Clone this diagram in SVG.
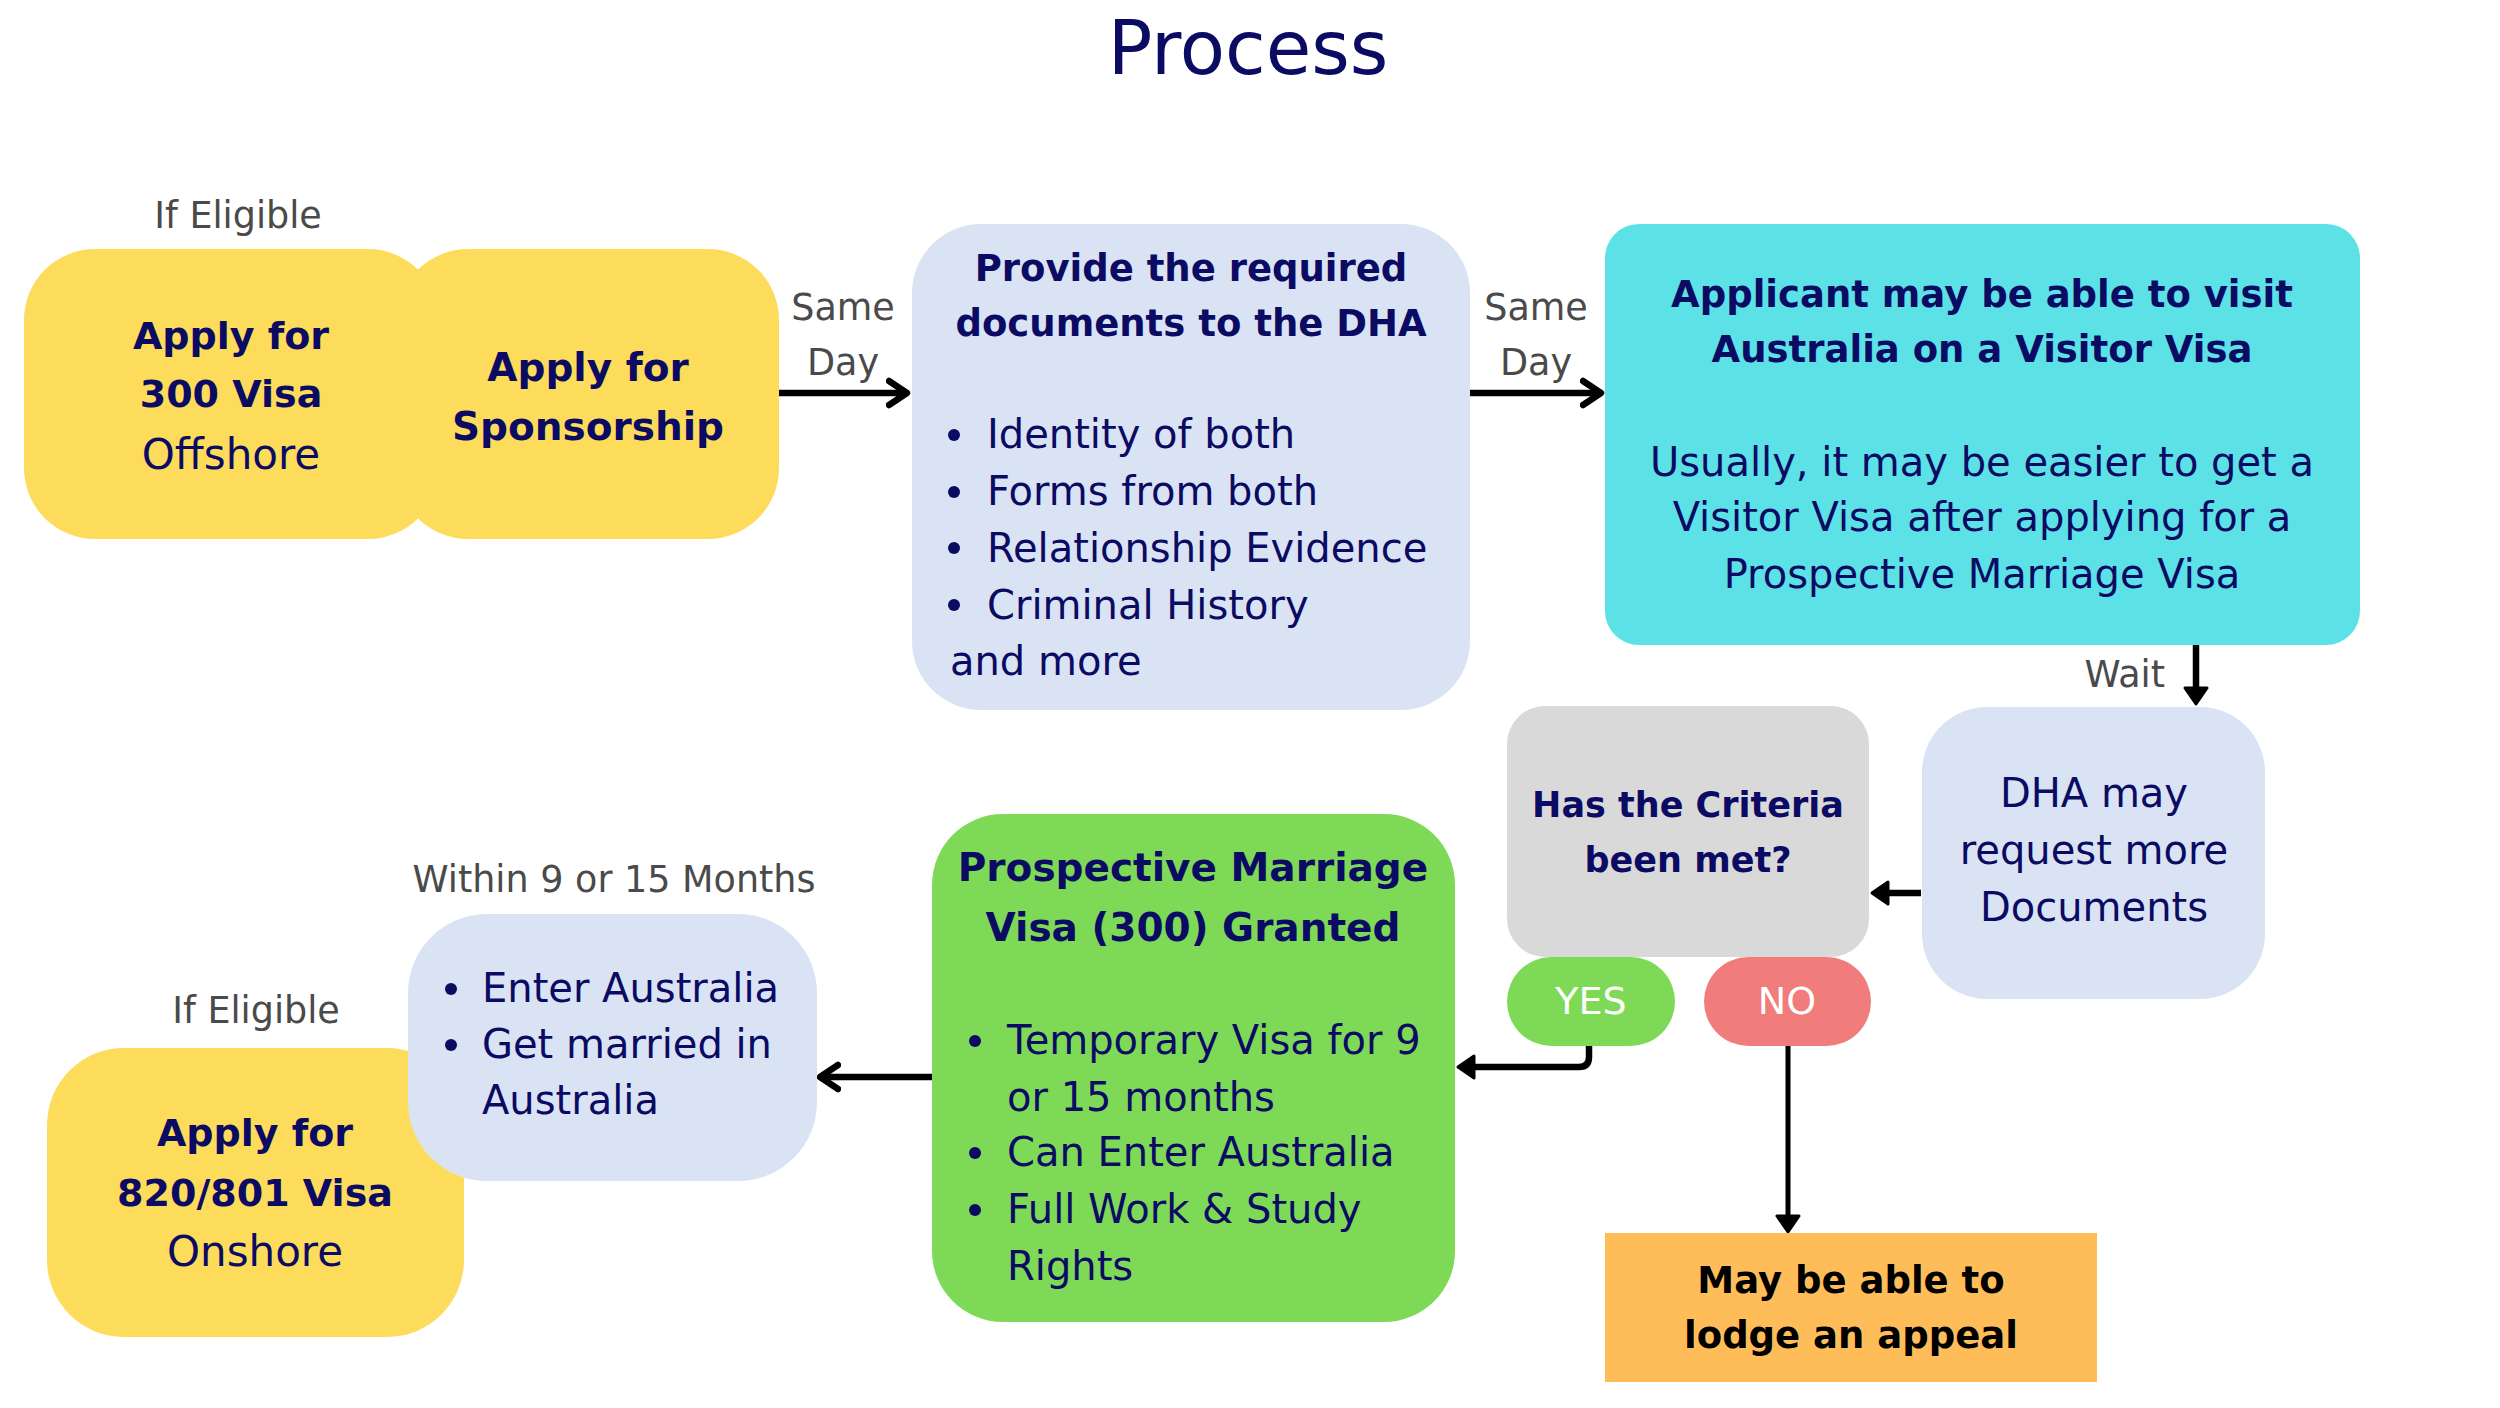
<svg xmlns="http://www.w3.org/2000/svg" width="2500" height="1408" viewBox="0 0 2500 1408">
<defs>
<style>
text{font-family:"DejaVu Sans","Noto Sans",sans-serif;fill:#0b0b63}
.r{font-size:40px;font-weight:400}
.b{font-size:37px;font-weight:700}
.lbl{font-size:36.5px;fill:#4a4a4a}
.c{text-anchor:middle}
.wt{fill:#ffffff;font-size:38px}
.blk{fill:#000000}
.ln{fill:none;stroke:#000;stroke-width:6.5;stroke-linecap:butt;stroke-linejoin:round}
.dot{fill:#0b0b63}
</style>
<marker id="chev" markerUnits="userSpaceOnUse" viewBox="0 0 26 32" refX="21" refY="16" markerWidth="26" markerHeight="32" orient="auto">
<path d="M3,4 L21,16 L3,28" fill="none" stroke="#000" stroke-width="6.5" stroke-linecap="round" stroke-linejoin="round"/>
</marker>
<marker id="tri" markerUnits="userSpaceOnUse" viewBox="0 0 24 30" refX="8" refY="15" markerWidth="24" markerHeight="30" orient="auto">
<path d="M3,4 L19,15 L3,26 Z" fill="#000" stroke="#000" stroke-width="3" stroke-linejoin="round"/>
</marker>
</defs>
<rect width="2500" height="1408" fill="#ffffff"/>
<text x="1248" y="74" class="c" style="font-size:74px">Process</text>

<g id="connectors">
<line class="ln" x1="779" y1="393" x2="907" y2="393" marker-end="url(#chev)"/>
<line class="ln" x1="1470" y1="393" x2="1601" y2="393" marker-end="url(#chev)"/>
<line class="ln" x1="2196" y1="645" x2="2196" y2="693" marker-end="url(#tri)"/>
<line class="ln" x1="1921" y1="893" x2="1883" y2="893" marker-end="url(#tri)"/>
<path class="ln" d="M1589,1046 L1589,1057 Q1589,1067 1579,1067 L1469,1067" marker-end="url(#tri)"/>
<line class="ln" x1="932" y1="1077" x2="820" y2="1077" marker-end="url(#chev)"/>
<line class="ln" x1="1788" y1="1046" x2="1788" y2="1221" style="stroke-width:5" marker-end="url(#tri)"/>
<text x="843" y="320" class="lbl c">Same</text>
<text x="843" y="375" class="lbl c">Day</text>
<text x="1536" y="320" class="lbl c">Same</text>
<text x="1536" y="375" class="lbl c">Day</text>
<text x="2165" y="687" class="lbl" text-anchor="end">Wait</text>
<text x="614" y="892" class="lbl c">Within 9 or 15 Months</text>
<text x="238" y="228" class="lbl c">If Eligible</text>
<text x="256" y="1023" class="lbl c">If Eligible</text>
</g>

<g id="apply300">
<rect x="24" y="249" width="415" height="290" rx="71" fill="#FDDC5C"/>
<text x="231" y="349" class="b c" style="font-size:38px">Apply for</text>
<text x="231" y="407" class="b c" style="font-size:38px">300 Visa</text>
<text x="231" y="469" class="r c" style="font-size:42px">Offshore</text>
</g>

<g id="sponsorship">
<rect x="397" y="249" width="382" height="290" rx="71" fill="#FDDC5C"/>
<text x="588" y="381" class="b c" style="font-size:39px">Apply for</text>
<text x="588" y="440" class="b c" style="font-size:39px">Sponsorship</text>
</g>

<g id="documents">
<rect x="912" y="224" width="558" height="486" rx="69" fill="#DAE3F3"/>
<text x="1191" y="281" class="b c">Provide the required</text>
<text x="1191" y="336" class="b c">documents to the DHA</text>
<circle class="dot" cx="954" cy="435" r="6"/>
<text x="987" y="448" class="r">Identity of both</text>
<circle class="dot" cx="954" cy="492" r="6"/>
<text x="987" y="505" class="r">Forms from both</text>
<circle class="dot" cx="954" cy="548" r="6"/>
<text x="987" y="562" class="r">Relationship Evidence</text>
<circle class="dot" cx="954" cy="605" r="6"/>
<text x="987" y="619" class="r">Criminal History</text>
<text x="950" y="675" class="r">and more</text>
</g>

<g id="visitor">
<rect x="1605" y="224" width="755" height="421" rx="34" fill="#5CE1E6"/>
<text x="1982" y="307" class="b c">Applicant may be able to visit</text>
<text x="1982" y="362" class="b c">Australia on a Visitor Visa</text>
<text x="1982" y="476" class="r c">Usually, it may be easier to get a</text>
<text x="1982" y="531" class="r c">Visitor Visa after applying for a</text>
<text x="1982" y="588" class="r c">Prospective Marriage Visa</text>
</g>

<g id="request">
<rect x="1922" y="707" width="343" height="292" rx="65" fill="#DAE3F3"/>
<text x="2094" y="807" class="r c">DHA may</text>
<text x="2094" y="864" class="r c">request more</text>
<text x="2094" y="921" class="r c">Documents</text>
</g>

<g id="criteria">
<rect x="1507" y="706" width="362" height="251" rx="38" fill="#D9D9D9"/>
<text x="1688" y="817" class="b c" style="font-size:35px">Has the Criteria</text>
<text x="1688" y="872" class="b c" style="font-size:35px">been met?</text>
</g>

<g id="yes">
<rect x="1507" y="957" width="168" height="89" rx="44.5" fill="#7ED957"/>
<text x="1591" y="1014" class="wt c">YES</text>
</g>

<g id="no">
<rect x="1704" y="957" width="167" height="89" rx="44.5" fill="#F07C7C"/>
<text x="1787" y="1014" class="wt c">NO</text>
</g>

<g id="appeal">
<rect x="1605" y="1233" width="492" height="149" fill="#FFBD59"/>
<text x="1851" y="1293" class="b c blk">May be able to</text>
<text x="1851" y="1348" class="b c blk">lodge an appeal</text>
</g>

<g id="granted">
<rect x="932" y="814" width="523" height="508" rx="71" fill="#7ED957"/>
<text x="1193" y="881" class="b c" style="font-size:39px">Prospective Marriage</text>
<text x="1193" y="941" class="b c" style="font-size:39px">Visa (300) Granted</text>
<circle class="dot" cx="975" cy="1041" r="6"/>
<text x="1007" y="1054" class="r">Temporary Visa for 9</text>
<text x="1007" y="1111" class="r">or 15 months</text>
<circle class="dot" cx="975" cy="1153" r="6"/>
<text x="1007" y="1166" class="r">Can Enter Australia</text>
<circle class="dot" cx="975" cy="1210" r="6"/>
<text x="1007" y="1223" class="r">Full Work &amp; Study</text>
<text x="1007" y="1280" class="r">Rights</text>
</g>

<g id="apply820">
<rect x="47" y="1048" width="417" height="289" rx="77" fill="#FDDC5C"/>
<text x="255" y="1146" class="b c" style="font-size:38px">Apply for</text>
<text x="255" y="1206" class="b c" style="font-size:38px">820/801 Visa</text>
<text x="255" y="1266" class="r c" style="font-size:42px">Onshore</text>
</g>

<g id="enter">
<rect x="408" y="914" width="409" height="267" rx="79" fill="#DAE3F3"/>
<circle class="dot" cx="451" cy="989" r="6"/>
<text x="482" y="1002" class="r">Enter Australia</text>
<circle class="dot" cx="451" cy="1045" r="6"/>
<text x="482" y="1058" class="r">Get married in</text>
<text x="482" y="1114" class="r">Australia</text>
</g>
</svg>
